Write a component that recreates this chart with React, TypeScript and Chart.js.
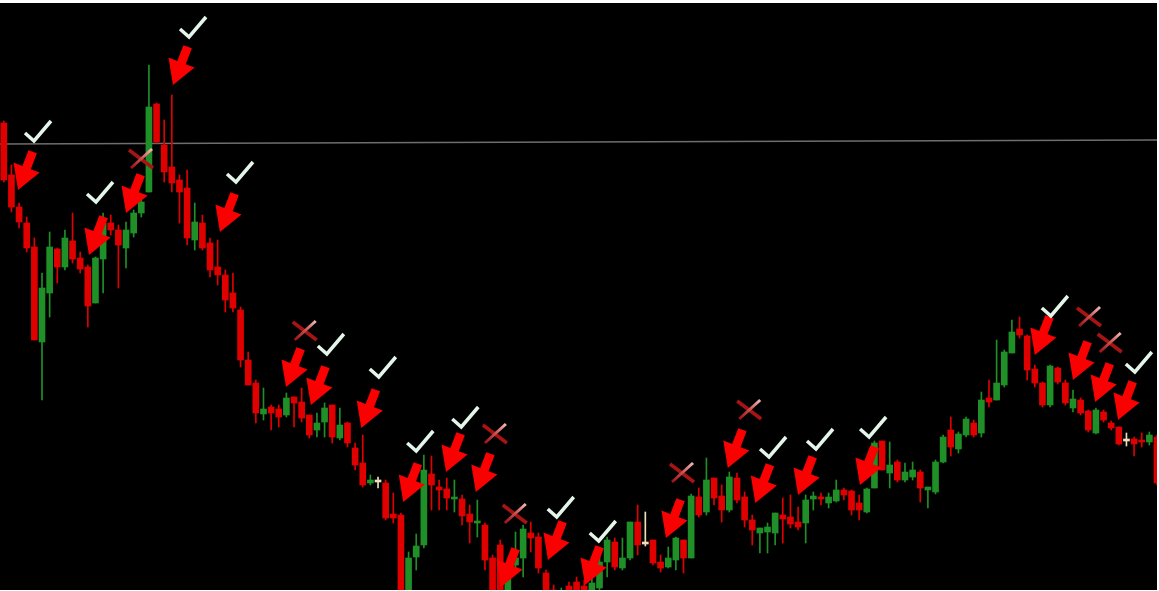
import React, { useEffect, useRef } from "react";
import { Chart, registerables } from "chart.js";

Chart.register(...registerables);

// OHLC values (points)
const opens = [
  477, 425, 393, 377, 353, 258, 307, 351, 333, 359,
  342, 333, 297, 341, 377, 370, 352, 367, 387, 408,
  496, 455, 433, 420, 412, 360, 377, 357, 333, 325,
  307, 290, 240, 217, 186, 193, 191, 185, 203, 198,
  185, 170, 178, 195, 162, 177, 152, 137, 117, 118,
  117, 86, 85, 10, 43, 55, 126, 113, 111, 101,
  101, 86, 77, 75, 42, 55, 5, 35, 42, 67,
  63, 27, 10, -5, 14, 18, 14, 0, 12, 38,
  58, 32, 42, 78, 56, 60, 38, 33, 40, 60,
  42, 103, 88, 122, 104, 90, 122, 103, 80, 67,
  68, 67, 85, 83, 78, 77, 101, 103, 97, 99,
  110, 109, 97, 88, 112, 159, 127, 138, 120, 123,
  128, 110, 108, 138, 170, 151, 165, 177, 167, 202,
  200, 215, 247, 271, 264, 231, 217, 195, 232, 217,
  192, 200, 189, 167, 188, 177, 173, 159, 161, 160,
  158, 163,
];
const highs = [
  479, 435, 397, 383, 362, 327, 368, 352, 370, 387,
  348, 335, 343, 387, 385, 375, 378, 390, 403, 535,
  497, 480, 505, 425, 430, 397, 385, 362, 360, 330,
  327, 293, 248, 220, 212, 195, 195, 207, 203, 212,
  185, 187, 197, 195, 192, 178, 157, 165, 125, 123,
  120, 107, 87, 48, 66, 145, 144, 120, 122, 120,
  105, 95, 100, 77, 45, 60, 30, 68, 75, 78,
  67, 30, 15, 12, 18, 23, 20, 22, 45, 63,
  62, 62, 78, 95, 88, 60, 45, 53, 63, 60,
  106, 112, 142, 122, 115, 128, 127, 108, 85, 72,
  77, 87, 102, 105, 93, 105, 108, 107, 107, 120,
  112, 110, 105, 112, 159, 159, 158, 140, 137, 138,
  130, 113, 140, 165, 183, 168, 183, 180, 208, 220,
  260, 250, 280, 283, 265, 235, 218, 235, 233, 220,
  210, 202, 190, 192, 190, 179, 173, 167, 163, 167,
  168, 165,
];
const lows = [
  418, 388, 372, 348, 260, 200, 283, 317, 330, 337,
  327, 273, 297, 307, 365, 312, 332, 363, 383, 408,
  457, 418, 408, 377, 355, 350, 350, 323, 315, 288,
  288, 233, 215, 177, 180, 170, 173, 183, 173, 178,
  162, 163, 163, 157, 160, 153, 130, 113, 115, 112,
  80, 77, 0, 5, 30, 52, 90, 90, 90, 88,
  75, 57, 63, 30, 0, 0, 0, 28, 23, 48,
  27, -5, -10, -10, -5, -5, -5, -5, 5, 23,
  30, 30, 40, 45, 54, 35, 28, 32, 30, 27,
  42, 83, 85, 95, 78, 88, 97, 73, 55, 47,
  47, 55, 57, 72, 70, 57, 90, 95, 92, 98,
  100, 85, 80, 87, 112, 130, 112, 118, 118, 120,
  98, 92, 106, 137, 144, 147, 163, 163, 163, 193,
  200, 213, 247, 262, 220, 213, 193, 193, 216, 195,
  188, 185, 168, 166, 178, 170, 155, 154, 144, 153,
  155, 115,
];
const closes = [
  420, 393, 378, 352, 260, 312, 353, 333, 362, 341,
  331, 294, 342, 377, 370, 355, 370, 387, 398, 493,
  458, 428, 417, 408, 362, 378, 352, 330, 325, 300,
  292, 240, 215, 187, 191, 187, 183, 202, 197, 182,
  165, 177, 192, 163, 175, 157, 135, 115, 120, 118,
  82, 82, 5, 42, 54, 130, 115, 110, 102, 103,
  84, 78, 79, 40, 5, 5, 25, 42, 71, 62,
  32, 0, -5, 8, 0, 0, 0, 17, 38, 60,
  33, 42, 78, 55, 56, 37, 32, 42, 62, 42,
  104, 85, 120, 102, 90, 123, 100, 80, 70, 72,
  73, 87, 81, 76, 73, 100, 104, 101, 103, 110,
  105, 90, 90, 111, 157, 130, 135, 120, 128, 130,
  112, 113, 138, 163, 153, 166, 181, 165, 200, 198,
  217, 248, 268, 265, 230, 217, 195, 234, 218, 197,
  201, 187, 170, 190, 180, 172, 156, 159, 156, 158,
  165, 117,
];

// horizontal level line (start / end value)
const levelValues = [456, 460];

// signal markers: candle position and price
const arrowPos = [1.86, 11.15, 16.0, 22.15, 28.3, 36.95, 40.2, 46.8, 52.3, 57.9, 61.8, 65.1, 71.25, 76.1, 86.7, 94.8, 98.4, 104.0, 112.1, 135.0, 140.0, 142.9, 145.9];
const arrowPrice = [410, 345, 387, 515, 368, 213, 195, 172, 98, 128, 108, 13, 40, 15, 62, 132, 97, 105, 115, 245, 220, 198, 180];
const checkPos = [3.95, 12.07, 24.25, 30.4, 42.3, 49.1, 54.0, 59.9, 72.4, 77.9, 100.2, 106.35, 113.3, 137.1, 148.1];
const checkPrice = [459, 398, 563, 418, 246, 223, 149, 173, 83, 59, 143, 151, 163, 284, 228];
const crossPos = [17.96, 39.4, 64.3, 66.9, 88.8, 97.6, 142.1, 144.8];
const crossPrice = [441, 269, 166, 86, 127, 190, 283, 257];

const RED = "#e00000";
const GREEN = "#1f8f28";
const CREAM = "#e9e2b8";
const ARROW = "#fa0000";
const CHECK = "#e4f6ea";

const markerPlugin = {
  id: "signalMarkers",
  afterDatasetsDraw(chart: any) {
    const { ctx, scales } = chart;
    const xs = scales.x;
    const ys = scales.y;
    ctx.save();
    // crosses
    crossPos.forEach((p, k) => {
      const cx = xs.getPixelForValue(p);
      const cy = ys.getPixelForValue(crossPrice[k]);
      ctx.lineCap = "butt";
      ctx.lineWidth = 3.5;
      ctx.strokeStyle = "#a81414";
      ctx.beginPath();
      ctx.moveTo(cx - 12, cy - 9);
      ctx.lineTo(cx + 12, cy + 9);
      ctx.stroke();
      const g = ctx.createLinearGradient(cx - 10, cy + 9, cx + 11, cy - 10);
      g.addColorStop(0, "#9c1010");
      g.addColorStop(0.5, "#c85050");
      g.addColorStop(1, "#f2b8b8");
      ctx.strokeStyle = g;
      ctx.lineWidth = 3;
      ctx.beginPath();
      ctx.moveTo(cx - 10, cy + 9);
      ctx.lineTo(cx + 11, cy - 10);
      ctx.stroke();
    });
    // arrows
    const ux = 0.357, uy = -0.933;
    const px = 0.933, py = 0.357;
    ctx.fillStyle = ARROW;
    arrowPos.forEach((p, k) => {
      const tx = xs.getPixelForValue(p);
      const ty = ys.getPixelForValue(arrowPrice[k]);
      const bx = tx + 24 * ux, by = ty + 24 * uy;
      const sx = tx + 41 * ux, sy = ty + 41 * uy;
      const hw = 14, sw = 4.5;
      ctx.beginPath();
      ctx.moveTo(tx, ty);
      ctx.lineTo(bx + hw * px, by + hw * py);
      ctx.lineTo(bx + sw * px, by + sw * py);
      ctx.lineTo(sx + sw * px, sy + sw * py);
      ctx.lineTo(sx - sw * px, sy - sw * py);
      ctx.lineTo(bx - sw * px, by - sw * py);
      ctx.lineTo(bx - hw * px, by - hw * py);
      ctx.closePath();
      ctx.fill();
    });
    // checks
    ctx.strokeStyle = CHECK;
    ctx.lineWidth = 3.5;
    ctx.lineJoin = "miter";
    ctx.lineCap = "butt";
    checkPos.forEach((p, k) => {
      const vx = xs.getPixelForValue(p);
      const vy = ys.getPixelForValue(checkPrice[k]);
      ctx.beginPath();
      ctx.moveTo(vx - 9, vy - 8);
      ctx.lineTo(vx, vy);
      ctx.lineTo(vx + 17, vy - 20);
      ctx.stroke();
    });
    ctx.restore();
  },
};

export default function App() {
  const ref = useRef<HTMLCanvasElement | null>(null);

  useEffect(() => {
    if (!ref.current) return;
    const idx = opens.map((_, i) => i);
    const colors = idx.map((i) =>
      closes[i] > opens[i] ? GREEN : closes[i] < opens[i] ? RED : CREAM
    );
    const wickData = idx.map((i) => ({ x: i, y: [lows[i], highs[i]] }));
    const bodyData = idx.map((i) => ({
      x: i,
      y: [Math.min(opens[i], closes[i]), Math.max(opens[i], closes[i])],
    }));
    const chart = new Chart(ref.current, {
      type: "bar",
      data: {
        datasets: [
          {
            type: "line",
            data: [
              { x: -0.5, y: levelValues[0] },
              { x: 151, y: levelValues[1] },
            ],
            borderColor: "#6e6e6e",
            borderWidth: 1.5,
            pointRadius: 0,
            order: 3,
          } as any,
          {
            type: "bar",
            data: wickData as any,
            backgroundColor: colors,
            barThickness: 1,
            grouped: false,
            borderWidth: 0,
            order: 2,
          },
          {
            type: "bar",
            data: bodyData as any,
            backgroundColor: colors,
            barThickness: 6,
            grouped: false,
            minBarLength: 2,
            borderWidth: 0,
            order: 1,
          },
        ],
      },
      options: {
        animation: false,
        responsive: false,
        maintainAspectRatio: false,
        events: [],
        layout: { padding: 0 },
        plugins: { legend: { display: false }, tooltip: { enabled: false } },
        scales: {
          x: { type: "linear", min: -0.5, max: 151, offset: false, display: false },
          y: { type: "linear", min: 10, max: 597, display: false },
        },
      } as any,
      plugins: [markerPlugin],
    });
    return () => chart.destroy();
  }, []);

  return (
    <div
      style={{
        position: "fixed",
        left: 0,
        top: 0,
        width: 1159,
        height: 591,
        background: "#ffffff",
        overflow: "hidden",
      }}
    >
      <canvas
        ref={ref}
        width={1157}
        height={587}
        style={{
          position: "absolute",
          left: 0,
          top: 3,
          width: 1157,
          height: 587,
          background: "#000000",
        }}
      />
    </div>
  );
}
